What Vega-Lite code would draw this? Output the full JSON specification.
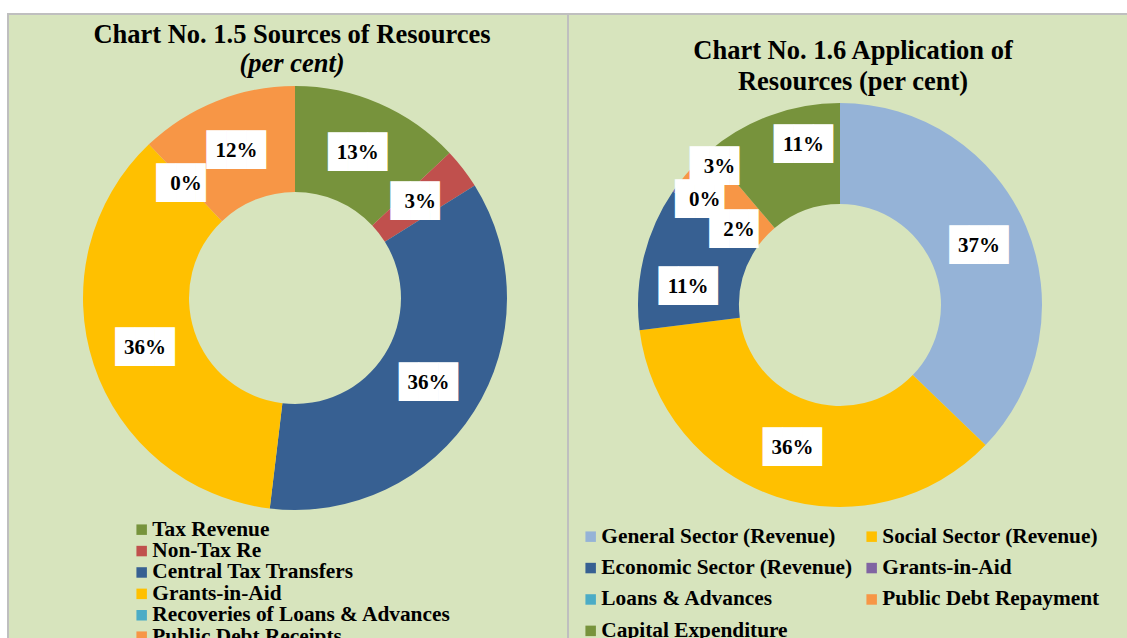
{
  "$schema": "https://vega.github.io/schema/vega-lite/v6.json",
  "background": "#d7e4bd",
  "padding": 0,
  "config": {
    "view": {"stroke": null},
    "legend": {
      "title": null,
      "orient": "none",
      "symbolType": "square",
      "symbolSize": 110,
      "symbolStrokeWidth": 0,
      "labelFont": "Liberation Serif",
      "labelFontWeight": "bold",
      "labelFontSize": 21.33,
      "labelColor": "#000000",
      "labelLimit": 600,
      "labelOffset": 0,
      "padding": 0
    }
  },
  "spacing": 0,
  "bounds": "flush",
  "hconcat": [
    {"width": 7, "height": 638, "data": {"values": []}, "mark": "rule", "encoding": {}, "view": {"fill": "#ffffff", "stroke": null}},
    {
      "spacing": 0,
      "bounds": "flush",
      "vconcat": [
        {"width": 1120, "height": 13, "data": {"values": []}, "mark": "rule", "encoding": {}, "view": {"fill": "#ffffff", "stroke": null}},
        {"width": 1120, "height": 2, "data": {"values": []}, "mark": "rule", "encoding": {}, "view": {"fill": "#bfbfbf", "stroke": null}},
        {
          "spacing": 14,
          "bounds": "flush",
          "hconcat": [
            {"width": 2, "height": 623, "data": {"values": []}, "mark": "rule", "encoding": {}, "view": {"fill": "#bfbfbf", "stroke": null}},
            {
              "spacing": 0,
              "bounds": "flush",
              "resolve": {"scale": {"color": "independent", "theta": "independent"}, "legend": {"color": "independent"}},
              "hconcat": [
                {
                  "width": 544,
                  "height": 566,
                  "title": {
                    "text": "Chart No. 1.5 Sources of Resources",
                    "subtitle": "(per cent)",
                    "frame": "group",
                    "anchor": "middle",
                    "dx": -3,
                    "offset": -62,
                    "font": "Liberation Serif",
                    "fontSize": 26.5,
                    "fontWeight": "bold",
                    "color": "#000000",
                    "subtitleFont": "Liberation Serif",
                    "subtitleFontSize": 26.5,
                    "subtitleFontWeight": "bold",
                    "subtitleFontStyle": "italic",
                    "subtitleColor": "#000000",
                    "subtitlePadding": 2
                  },
                  "data": {"values": [
                    {"category": "Tax Revenue", "value": 13.0, "label": "13%"},
                    {"category": "Non-Tax Re", "value": 3.1, "label": "3%"},
                    {"category": "Central Tax Transfers", "value": 35.8, "label": "36%"},
                    {"category": "Grants-in-Aid", "value": 36.0, "label": "36%"},
                    {"category": "Recoveries of Loans & Advances", "value": 0.0, "label": "0%"},
                    {"category": "Public Debt Receipts", "value": 12.1, "label": "12%"}
                  ]},
                  "transform": [{"window": [{"op": "row_number", "as": "i"}]}],
                  "encoding": {
                    "theta": {"field": "value", "type": "quantitative", "stack": true},
                    "order": {"field": "i", "type": "quantitative"},
                    "detail": {"field": "category", "type": "nominal"}
                  },
                  "layer": [
                    {
                      "mark": {"type": "arc", "innerRadius": 106, "outerRadius": 212, "strokeWidth": 0},
                      "encoding": {
                        "color": {
                          "field": "category",
                          "type": "nominal",
                          "sort": null,
                          "scale": {
                            "domain": ["Tax Revenue", "Non-Tax Re", "Central Tax Transfers", "Grants-in-Aid", "Recoveries of Loans & Advances", "Public Debt Receipts"],
                            "range": ["#77933c", "#c0504d", "#376092", "#ffc000", "#4bacc6", "#f79646"]
                          },
                          "legend": {"direction": "vertical", "legendX": 108, "legendY": 504, "rowPadding": -0.6}
                        }
                      }
                    },
                    {
                      "mark": {"type": "text", "radius": 158, "font": "DejaVu Sans Mono", "fontSize": 32.7, "fill": "#ffffff", "align": "center", "baseline": "middle"},
                      "encoding": {"text": {"condition": {"test": "length(datum.label) == 3", "value": "███"}, "value": "██▌"}}
                    },
                    {
                      "mark": {"type": "text", "radius": 158, "font": "Liberation Serif", "fontSize": 21, "fontWeight": "bold", "fill": "#000000", "align": "center", "baseline": "middle"},
                      "encoding": {"text": {"field": "label", "type": "nominal"}}
                    }
                  ]
                },
                {"width": 2, "height": 623, "data": {"values": []}, "mark": "rule", "encoding": {}, "view": {"fill": "#bfbfbf", "stroke": null}},
                {
                  "width": 542,
                  "height": 580,
                  "title": {
                    "text": "Chart No. 1.6 Application of",
                    "subtitle": "Resources (per cent)",
                    "frame": "group",
                    "anchor": "middle",
                    "dx": 13,
                    "offset": -80,
                    "font": "Liberation Serif",
                    "fontSize": 26.5,
                    "fontWeight": "bold",
                    "color": "#000000",
                    "subtitleFont": "Liberation Serif",
                    "subtitleFontSize": 26.5,
                    "subtitleFontWeight": "bold",
                    "subtitleColor": "#000000",
                    "subtitlePadding": 4
                  },
                  "data": {"values": [
                    {"category": "General Sector (Revenue)", "value": 37.2, "label": "37%"},
                    {"category": "Social Sector (Revenue)", "value": 35.8, "label": "36%"},
                    {"category": "Economic Sector (Revenue)", "value": 11.5, "label": "11%"},
                    {"category": "Grants-in-Aid", "value": 0.7, "label": "0%"},
                    {"category": "Loans & Advances", "value": 0.0, "label": "2%"},
                    {"category": "Public Debt Repayment", "value": 3.6, "label": "3%"},
                    {"category": "Capital Expenditure", "value": 11.2, "label": "11%"}
                  ]},
                  "transform": [{"window": [{"op": "row_number", "as": "i"}]}],
                  "encoding": {
                    "theta": {"field": "value", "type": "quantitative", "stack": true},
                    "order": {"field": "i", "type": "quantitative"},
                    "detail": {"field": "category", "type": "nominal"}
                  },
                  "layer": [
                    {
                      "mark": {"type": "arc", "innerRadius": 101, "outerRadius": 202, "strokeWidth": 0},
                      "encoding": {
                        "color": {
                          "field": "category",
                          "type": "nominal",
                          "sort": null,
                          "scale": {
                            "domain": ["General Sector (Revenue)", "Social Sector (Revenue)", "Economic Sector (Revenue)", "Grants-in-Aid", "Loans & Advances", "Public Debt Repayment", "Capital Expenditure"],
                            "range": ["#95b3d7", "#ffc000", "#376092", "#8064a2", "#4bacc6", "#f79646", "#77933c"]
                          },
                          "legend": {"direction": "horizontal", "columns": 2, "columnPadding": 8, "rowPadding": 9.4, "legendX": 11, "legendY": 511}
                        }
                      }
                    },
                    {
                      "mark": {"type": "text", "radius": 151, "font": "DejaVu Sans Mono", "fontSize": 32.7, "fill": "#ffffff", "align": "center", "baseline": "middle"},
                      "encoding": {"text": {"condition": {"test": "datum.category == 'General Sector (Revenue)' || datum.category == 'Social Sector (Revenue)'", "value": "███"}, "value": ""}}
                    },
                    {
                      "mark": {"type": "text", "radius": 151, "dx": -5, "dy": 17, "font": "DejaVu Sans Mono", "fontSize": 32.7, "fill": "#ffffff", "align": "center", "baseline": "middle"},
                      "encoding": {"text": {"condition": {"test": "datum.category == 'Economic Sector (Revenue)'", "value": "███"}, "value": ""}}
                    },
                    {
                      "mark": {"type": "text", "radius": 164, "dx": 20, "dy": -6, "font": "DejaVu Sans Mono", "fontSize": 32.7, "fill": "#ffffff", "align": "center", "baseline": "middle"},
                      "encoding": {"text": {"condition": {"test": "datum.category == 'Capital Expenditure'", "value": "███"}, "value": ""}}
                    },
                    {
                      "mark": {"type": "text", "radius": 171, "dx": 4, "dy": -6, "font": "DejaVu Sans Mono", "fontSize": 32.7, "fill": "#ffffff", "align": "center", "baseline": "middle"},
                      "encoding": {"text": {"condition": {"test": "datum.category == 'Grants-in-Aid'", "value": "██▌"}, "value": ""}}
                    },
                    {
                      "mark": {"type": "text", "radius": 126, "font": "DejaVu Sans Mono", "fontSize": 32.7, "fill": "#ffffff", "align": "center", "baseline": "middle"},
                      "encoding": {"text": {"condition": {"test": "datum.category == 'Loans & Advances'", "value": "██▌"}, "value": ""}}
                    },
                    {
                      "mark": {"type": "text", "radius": 183, "dx": 13, "dy": -13, "font": "DejaVu Sans Mono", "fontSize": 32.7, "fill": "#ffffff", "align": "center", "baseline": "middle"},
                      "encoding": {"text": {"condition": {"test": "datum.category == 'Public Debt Repayment'", "value": "██▌"}, "value": ""}}
                    },
                    {
                      "mark": {"type": "text", "radius": 151, "font": "Liberation Serif", "fontSize": 21, "fontWeight": "bold", "fill": "#000000", "align": "center", "baseline": "middle"},
                      "encoding": {"text": {"condition": {"test": "datum.category == 'General Sector (Revenue)' || datum.category == 'Social Sector (Revenue)'", "field": "label", "type": "nominal"}, "value": ""}}
                    },
                    {
                      "mark": {"type": "text", "radius": 151, "dx": -5, "dy": 17, "font": "Liberation Serif", "fontSize": 21, "fontWeight": "bold", "fill": "#000000", "align": "center", "baseline": "middle"},
                      "encoding": {"text": {"condition": {"test": "datum.category == 'Economic Sector (Revenue)'", "field": "label", "type": "nominal"}, "value": ""}}
                    },
                    {
                      "mark": {"type": "text", "radius": 164, "dx": 20, "dy": -6, "font": "Liberation Serif", "fontSize": 21, "fontWeight": "bold", "fill": "#000000", "align": "center", "baseline": "middle"},
                      "encoding": {"text": {"condition": {"test": "datum.category == 'Capital Expenditure'", "field": "label", "type": "nominal"}, "value": ""}}
                    },
                    {
                      "mark": {"type": "text", "radius": 171, "dx": 4, "dy": -6, "font": "Liberation Serif", "fontSize": 21, "fontWeight": "bold", "fill": "#000000", "align": "center", "baseline": "middle"},
                      "encoding": {"text": {"condition": {"test": "datum.category == 'Grants-in-Aid'", "field": "label", "type": "nominal"}, "value": ""}}
                    },
                    {
                      "mark": {"type": "text", "radius": 126, "font": "Liberation Serif", "fontSize": 21, "fontWeight": "bold", "fill": "#000000", "align": "center", "baseline": "middle"},
                      "encoding": {"text": {"condition": {"test": "datum.category == 'Loans & Advances'", "field": "label", "type": "nominal"}, "value": ""}}
                    },
                    {
                      "mark": {"type": "text", "radius": 183, "dx": 13, "dy": -13, "font": "Liberation Serif", "fontSize": 21, "fontWeight": "bold", "fill": "#000000", "align": "center", "baseline": "middle"},
                      "encoding": {"text": {"condition": {"test": "datum.category == 'Public Debt Repayment'", "field": "label", "type": "nominal"}, "value": ""}}
                    }
                  ]
                }
              ]
            }
          ]
        }
      ]
    }
  ]
}
